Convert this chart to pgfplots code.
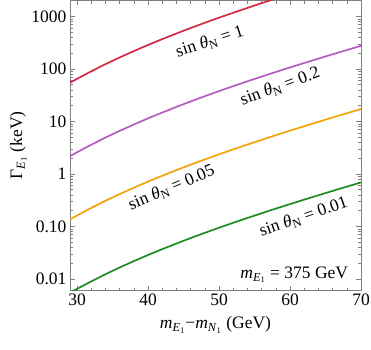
\documentclass[border=0pt]{standalone}
\usepackage{fontspec}
\setmainfont{Liberation Serif}
\usepackage{pgfplots}
\pgfplotsset{compat=1.18}
\usetikzlibrary{calc}
\definecolor{cred}{HTML}{D42A45}
\definecolor{cpurple}{HTML}{B45CC0}
\definecolor{corange}{HTML}{F0A30A}
\definecolor{cgreen}{HTML}{1E8C1E}
\newcommand{\Eone}{\textsubscript{\textit{E}\textsubscript{1}}}
\newcommand{\None}{\textsubscript{\textit{N}\textsubscript{1}}}
\newcommand{\lab}[1]{sin \textit{θ}\textsubscript{N} = #1}
\newcommand{\fs}{\fontsize{17.5}{20}\selectfont}

\begin{document}
\begin{tikzpicture}
\begin{axis}[
  scale only axis,
  width=291pt, height=290pt,
  ymode=log,
  xmin=29, xmax=70,
  ymin=0.006, ymax=2000,
  xtick={30,40,50,60,70},
  minor x tick num=4,
  ytick={0.01,0.1,1,10,100,1000},
  yticklabels={0.01,0.10,1,10,100,1000},
  tick align=inside,
  axis line style={draw=black!50},
  every tick/.style={draw=black!50},
  major tick length=5pt, minor tick length=3pt,
  /pgf/number format/assume math mode=true,
  tick label style={font=\fs},
  label style={font=\fs},
  xlabel={\textit{m}\Eone−\textit{m}\None\ (GeV)},
  ylabel={Γ\Eone\ (keV)},
  ylabel shift=-2pt,
  xlabel shift=4pt,
  clip=true,
]
\addplot[cred, line width=1.7pt] coordinates {
 (29,54.3) (30,64.6) (32,89.7) (34,122.7) (36,164.8) (38,217.8) (40,285.1)
 (42,368.1) (44,471.0) (46,598.4) (48,753.4) (50,941.9) (52,1169.5)
 (54,1445.4) (56,1778.3) (58,2177.7) (60,2654.6)
};
\addplot[cpurple, line width=1.7pt] coordinates {
 (29,2.17) (30,2.58) (32,3.59) (34,4.91) (36,6.59) (38,8.71) (40,11.40)
 (42,14.72) (44,18.84) (46,23.94) (48,30.14) (50,37.68) (52,46.78)
 (54,57.82) (56,71.13) (58,87.11) (60,106.2) (62,129.1) (64,156.3)
 (66,189.2) (68,228.0) (70,274.2)
};
\addplot[corange, line width=1.7pt] coordinates {
 (29,0.1358) (30,0.1615) (32,0.2243) (34,0.3068) (36,0.4120) (38,0.5445)
 (40,0.7128) (42,0.9203) (44,1.1775) (46,1.496) (48,1.8835) (50,2.355)
 (52,2.924) (54,3.614) (56,4.446) (58,5.444) (60,6.637) (62,8.072)
 (64,9.772) (66,11.83) (68,14.26) (70,17.14)
};
\addplot[cgreen, line width=1.7pt] coordinates {
 (29,0.00543) (30,0.00646) (32,0.00897) (34,0.01227) (36,0.01648)
 (38,0.02178) (40,0.02851) (42,0.03681) (44,0.04710) (46,0.05984)
 (48,0.07534) (50,0.09419) (52,0.1170) (54,0.1445) (56,0.1778)
 (58,0.2178) (60,0.2655) (62,0.3228) (64,0.3908) (66,0.4732)
 (68,0.5702) (70,0.6855)
};
\node[rotate=18, font=\fs] at (axis cs:48.7,330) {\lab{1}};
\node[rotate=20, font=\fs] at (axis cs:58.6,46) {\lab{0.2}};
\node[rotate=23, font=\fs] at (axis cs:43.3,0.54) {\lab{0.05}};
\node[rotate=19, font=\fs] at (axis cs:61.9,0.15) {\lab{0.01}};
\node[font=\fs] at (axis cs:60.6,0.0119) {\textit{m}\Eone\ = 375 GeV};
\end{axis}
\pgfresetboundingbox
\path ($(current axis.south west)+(-70pt,-59pt)$) rectangle ($(current axis.north east)+(10pt,0.5pt)$);
\end{tikzpicture}
\end{document}
